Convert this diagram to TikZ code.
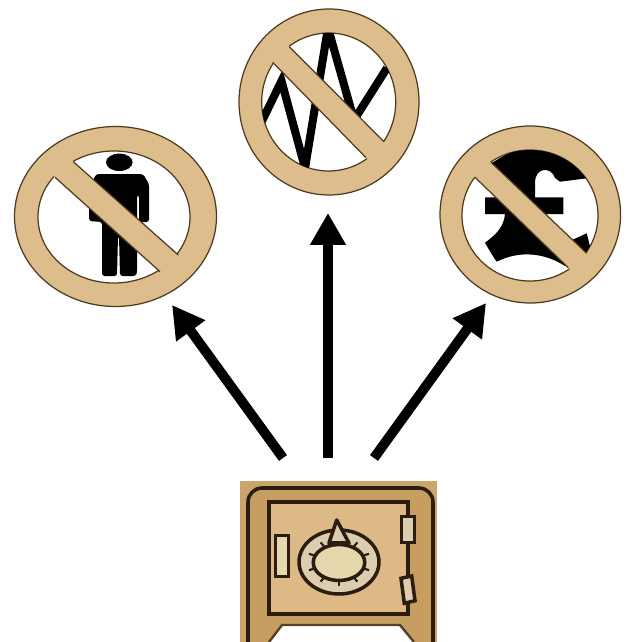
\documentclass[tikz,border=0pt]{standalone}
\usetikzlibrary{arrows.meta, positioning, calc, shapes.geometric}
\definecolor{bantan}{HTML}{DDBD8C}
\definecolor{banedge}{HTML}{4F3A20}
\definecolor{safeback}{HTML}{CBA56C}
\definecolor{safebody}{HTML}{C79E62}
\definecolor{safedoor}{HTML}{DDB985}
\definecolor{safelight}{HTML}{E6D7AC}
\definecolor{safering}{HTML}{DCCDAE}
\definecolor{safeink}{HTML}{2A1C0E}
\tikzset{
  banouter/.style={ellipse, draw=banedge, line width=0.7pt, fill=bantan, inner sep=0pt},
  baninner/.style={ellipse, draw=banedge, line width=0.7pt, fill=white, inner sep=0pt},
  bigarrow/.style={line width=5.6pt, draw=black, -{Triangle[length=6.4mm, width=6.8mm]}},
  safeline/.style={draw=safeink, line width=2pt}
}

\begin{document}
\begin{tikzpicture}[x=0.02cm, y=-0.02cm]

% Canvas in pixels of the reference, y runs down
\useasboundingbox (0,0) rectangle (630,642);
\fill[white] (0,0) rectangle (630,642);

% Rings
\foreach \nm/\cx/\cy/\rx/\ry/\ix/\iy/\irx/\iry in {
  man/115.5/216.5/101/90/114/217/76/66,
  graph/329/102/90/93/328.7/102/67/69,
  pound/530.3/214.5/90.3/88.5/530/215.5/68/65.5} {
  \node[banouter, minimum width={2*\rx*0.02cm}, minimum height={2*\ry*0.02cm}] (\nm) at (\cx,\cy) {};
  \node[baninner, minimum width={2*\irx*0.02cm}, minimum height={2*\iry*0.02cm}] (\nm hole) at (\ix,\iy) {};
}

% Man
\begin{scope}
  \clip (114,217) ellipse [x radius=76, y radius=66];
  \fill[black] (119.3,162.3) ellipse [x radius=13.3, y radius=8.7];
  \fill[black, rounded corners=1.5pt] (89,221) -- (89,190) -- (96,174) -- (143,174) -- (149,184)
    -- (149,222) -- (139,222) -- (139,195) -- (137,195) -- (137,272) -- (136,276) -- (120,276)
    -- (119,236) -- (118,236) -- (117,276) -- (102,276) -- (102,222) -- cycle;
\end{scope}

% Graph
\begin{scope}
  \clip (328.7,102) ellipse [x radius=67, y radius=69];
  \draw[black, line width=4.6pt, miter limit=3] (262,121) -- (281.5,81) -- (305,168) -- (328,28)
    -- (354,120) -- (387,68);
\end{scope}

% Pound
\begin{scope}
  \clip (530,215.5) ellipse [x radius=68, y radius=65.5];
  \fill[black] (500,158) .. controls (515,149) and (530,148) .. (543,149.3)
    .. controls (560,150) and (578,163) .. (587,178.3) -- (560,181.7) -- (555,178)
    .. controls (552,167) and (535,166) .. (535,183) -- (535,197.3) -- (563.3,197.3)
    -- (563.3,214) -- (532,214) -- (540,240) -- (568.3,241.7) -- (586.7,233.3) -- (594,262)
    -- (565,266) .. controls (545,253) and (520,250) .. (496.7,261.7)
    .. controls (492,255) and (488,248) .. (485,242.7)
    .. controls (497,234) and (504,226) .. (505,214) -- (485,214) -- (485,197.3) -- (505,197.3)
    -- (505,180) -- (480,170) -- cycle;
\end{scope}

% Bars, ends run on under nothing but the ring
\foreach \ax/\ay/\bx/\by/\cx/\cy/\dx/\dy in {
  55/177.3/160/271.7/178.3/255/73.3/161.7,
  272.7/62.3/366/157.7/384/141.7/289.3/46.7,
  475/177.3/568.3/267.7/586.7/253.3/491/162.3} {
  \fill[bantan] ($(\ax,\ay)!-0.07!(\bx,\by)$) -- ($(\bx,\by)!-0.07!(\ax,\ay)$)
    -- ($(\cx,\cy)!-0.07!(\dx,\dy)$) -- ($(\dx,\dy)!-0.07!(\cx,\cy)$) -- cycle;
  \draw[banedge, line width=0.7pt] (\ax,\ay) -- (\bx,\by);
  \draw[banedge, line width=0.7pt] (\cx,\cy) -- (\dx,\dy);
}

% Safe
\node[fill=safeback, inner sep=0pt, minimum width=3.94cm, minimum height=3.21cm] (safe) at (338.5,561.5) {};
\draw[safeline, fill=safebody, rounded corners=8pt] (248,642) -- (248,488) -- (433,488) -- (433,642);
\fill[white, draw=safeink!70!safebody, line width=1.4pt] (269,642) -- (282,625) -- (400,625) -- (414,642);
\draw[safeline, fill=safedoor] (269,502) -- (408,502) -- (408,614) -- (269,614) -- cycle;
\node[ellipse, draw=safeink, line width=2pt, fill=safering, inner sep=0pt,
  minimum width=1.6cm, minimum height=1.28cm] (dial) at (339,562) {};
\foreach \a in {20,55,90,125,160,200,235,270,305,340} {
  \draw[safeink, line width=1.2pt] ($(339,562)+(\a:25 and 18)$) -- ($(339,562)+(\a:32 and 24)$);
}
\node[ellipse, draw=safeink, line width=2pt, fill=safelight, inner sep=0pt,
  minimum width=1.03cm, minimum height=0.72cm] (dialcentre) at (339,562.5) {};
\draw[safeline, fill=safering, line join=round] (336.7,520) -- (329,543) -- (349,543) -- cycle;
\draw[safeline, fill=safelight] (275.7,535.7) rectangle (288.3,576.7);
\draw[safeline, fill=safering] (401.7,516.7) rectangle (414.3,542.7);
\draw[safeline, fill=safering] (401,578.3) -- (411.7,576) -- (415,600.7) -- (404.3,603.3) -- cycle;

% Arrows
\coordinate (mantail) at (283,458);
\coordinate (mantip) at (172,305);
\coordinate (graphtail) at (328,458);
\coordinate (graphtip) at (328,213);
\coordinate (poundtail) at (374,458);
\coordinate (poundtip) at (486,303);
\draw[bigarrow] (mantail) -- (mantip);
\draw[bigarrow] (graphtail) -- (graphtip);
\draw[bigarrow] (poundtail) -- (poundtip);

\end{tikzpicture}
\end{document}
